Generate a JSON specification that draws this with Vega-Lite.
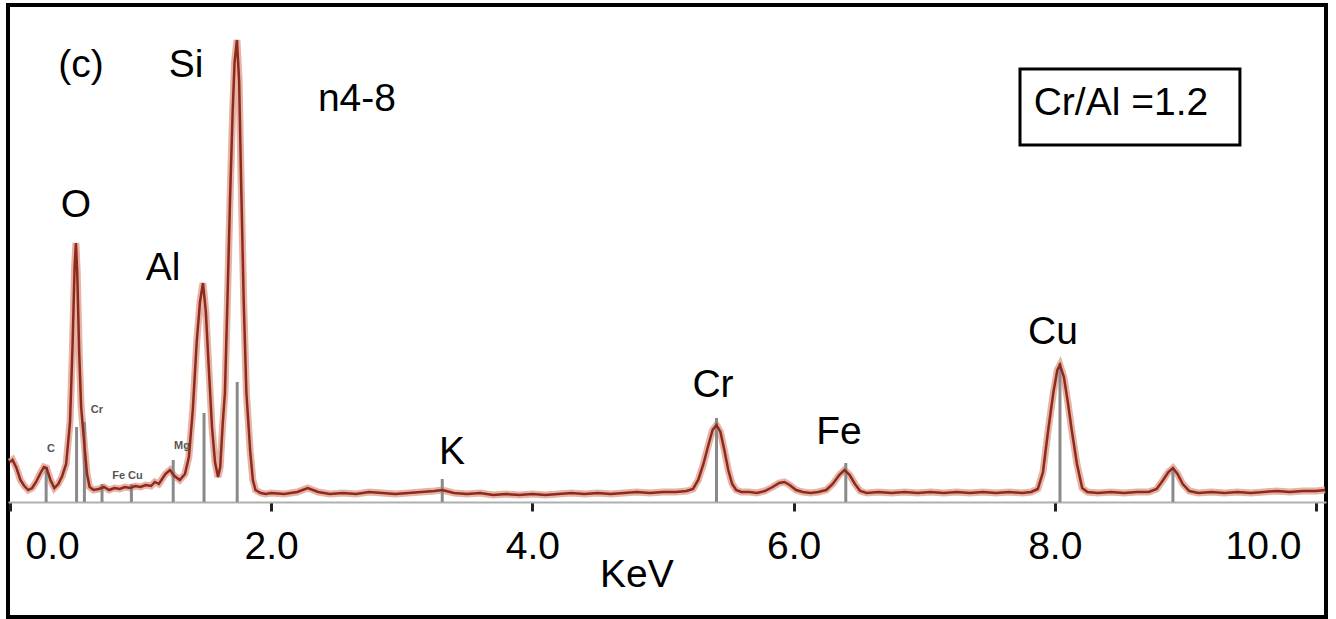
{
  "$schema": "https://vega.github.io/schema/vega-lite/v6.json",
  "width": 1318,
  "height": 612,
  "autosize": "none",
  "padding": {"left": 8, "top": 5, "right": 10, "bottom": 2},
  "background": "white",
  "config": {
    "view": {"stroke": "black", "strokeWidth": 4}
  },
  "data": {"values": [
      {"kind": "spec", "E": 0.00, "h": 40}, {"kind": "spec", "E": 0.02, "h": 42}, {"kind": "spec", "E": 0.05, "h": 34}, {"kind": "spec", "E": 0.08, "h": 22}, {"kind": "spec", "E": 0.11, "h": 16},
      {"kind": "spec", "E": 0.14, "h": 12}, {"kind": "spec", "E": 0.17, "h": 14}, {"kind": "spec", "E": 0.20, "h": 20}, {"kind": "spec", "E": 0.23, "h": 28}, {"kind": "spec", "E": 0.26, "h": 35},
      {"kind": "spec", "E": 0.28, "h": 34}, {"kind": "spec", "E": 0.31, "h": 22}, {"kind": "spec", "E": 0.34, "h": 14}, {"kind": "spec", "E": 0.37, "h": 18}, {"kind": "spec", "E": 0.40, "h": 26},
      {"kind": "spec", "E": 0.43, "h": 38}, {"kind": "spec", "E": 0.46, "h": 80}, {"kind": "spec", "E": 0.48, "h": 160}, {"kind": "spec", "E": 0.495, "h": 235}, {"kind": "spec", "E": 0.505, "h": 259},
      {"kind": "spec", "E": 0.515, "h": 230}, {"kind": "spec", "E": 0.53, "h": 150}, {"kind": "spec", "E": 0.545, "h": 95}, {"kind": "spec", "E": 0.56, "h": 72}, {"kind": "spec", "E": 0.575, "h": 50},
      {"kind": "spec", "E": 0.59, "h": 28}, {"kind": "spec", "E": 0.61, "h": 15}, {"kind": "spec", "E": 0.64, "h": 12}, {"kind": "spec", "E": 0.68, "h": 13}, {"kind": "spec", "E": 0.72, "h": 15},
      {"kind": "spec", "E": 0.76, "h": 12}, {"kind": "spec", "E": 0.80, "h": 14}, {"kind": "spec", "E": 0.84, "h": 13}, {"kind": "spec", "E": 0.88, "h": 15}, {"kind": "spec", "E": 0.92, "h": 14},
      {"kind": "spec", "E": 0.96, "h": 16}, {"kind": "spec", "E": 1.00, "h": 15}, {"kind": "spec", "E": 1.04, "h": 17}, {"kind": "spec", "E": 1.08, "h": 16}, {"kind": "spec", "E": 1.11, "h": 20},
      {"kind": "spec", "E": 1.14, "h": 18}, {"kind": "spec", "E": 1.16, "h": 22}, {"kind": "spec", "E": 1.19, "h": 28}, {"kind": "spec", "E": 1.225, "h": 32}, {"kind": "spec", "E": 1.26, "h": 26},
      {"kind": "spec", "E": 1.30, "h": 22}, {"kind": "spec", "E": 1.34, "h": 28}, {"kind": "spec", "E": 1.37, "h": 45}, {"kind": "spec", "E": 1.40, "h": 92}, {"kind": "spec", "E": 1.43, "h": 160},
      {"kind": "spec", "E": 1.455, "h": 200}, {"kind": "spec", "E": 1.478, "h": 219}, {"kind": "spec", "E": 1.50, "h": 190}, {"kind": "spec", "E": 1.52, "h": 140}, {"kind": "spec", "E": 1.547, "h": 75},
      {"kind": "spec", "E": 1.57, "h": 40}, {"kind": "spec", "E": 1.593, "h": 25}, {"kind": "spec", "E": 1.61, "h": 35}, {"kind": "spec", "E": 1.63, "h": 80}, {"kind": "spec", "E": 1.646, "h": 109},
      {"kind": "spec", "E": 1.665, "h": 200}, {"kind": "spec", "E": 1.685, "h": 302}, {"kind": "spec", "E": 1.705, "h": 390}, {"kind": "spec", "E": 1.72, "h": 440}, {"kind": "spec", "E": 1.738, "h": 462},
      {"kind": "spec", "E": 1.755, "h": 420}, {"kind": "spec", "E": 1.77, "h": 320}, {"kind": "spec", "E": 1.79, "h": 200}, {"kind": "spec", "E": 1.81, "h": 110}, {"kind": "spec", "E": 1.84, "h": 50},
      {"kind": "spec", "E": 1.86, "h": 22}, {"kind": "spec", "E": 1.88, "h": 12}, {"kind": "spec", "E": 1.92, "h": 9}, {"kind": "spec", "E": 1.96, "h": 8}, {"kind": "spec", "E": 2.00, "h": 9},
      {"kind": "spec", "E": 2.10, "h": 8}, {"kind": "spec", "E": 2.20, "h": 10}, {"kind": "spec", "E": 2.28, "h": 14}, {"kind": "spec", "E": 2.36, "h": 10}, {"kind": "spec", "E": 2.45, "h": 8},
      {"kind": "spec", "E": 2.55, "h": 9}, {"kind": "spec", "E": 2.65, "h": 8}, {"kind": "spec", "E": 2.75, "h": 10}, {"kind": "spec", "E": 2.85, "h": 9}, {"kind": "spec", "E": 2.95, "h": 8},
      {"kind": "spec", "E": 3.05, "h": 9}, {"kind": "spec", "E": 3.15, "h": 10}, {"kind": "spec", "E": 3.25, "h": 11}, {"kind": "spec", "E": 3.31, "h": 12}, {"kind": "spec", "E": 3.40, "h": 9},
      {"kind": "spec", "E": 3.50, "h": 8}, {"kind": "spec", "E": 3.60, "h": 9}, {"kind": "spec", "E": 3.70, "h": 7}, {"kind": "spec", "E": 3.80, "h": 8}, {"kind": "spec", "E": 3.90, "h": 7},
      {"kind": "spec", "E": 4.00, "h": 8}, {"kind": "spec", "E": 4.10, "h": 7}, {"kind": "spec", "E": 4.20, "h": 8}, {"kind": "spec", "E": 4.30, "h": 9}, {"kind": "spec", "E": 4.40, "h": 8},
      {"kind": "spec", "E": 4.50, "h": 9}, {"kind": "spec", "E": 4.60, "h": 8}, {"kind": "spec", "E": 4.70, "h": 9}, {"kind": "spec", "E": 4.80, "h": 10}, {"kind": "spec", "E": 4.90, "h": 9},
      {"kind": "spec", "E": 5.00, "h": 10}, {"kind": "spec", "E": 5.10, "h": 10}, {"kind": "spec", "E": 5.18, "h": 11}, {"kind": "spec", "E": 5.23, "h": 13}, {"kind": "spec", "E": 5.27, "h": 22},
      {"kind": "spec", "E": 5.31, "h": 38}, {"kind": "spec", "E": 5.35, "h": 58}, {"kind": "spec", "E": 5.38, "h": 72}, {"kind": "spec", "E": 5.41, "h": 77}, {"kind": "spec", "E": 5.44, "h": 70},
      {"kind": "spec", "E": 5.47, "h": 52}, {"kind": "spec", "E": 5.50, "h": 32}, {"kind": "spec", "E": 5.53, "h": 18}, {"kind": "spec", "E": 5.56, "h": 12}, {"kind": "spec", "E": 5.60, "h": 10},
      {"kind": "spec", "E": 5.66, "h": 10}, {"kind": "spec", "E": 5.72, "h": 9}, {"kind": "spec", "E": 5.78, "h": 11}, {"kind": "spec", "E": 5.84, "h": 15}, {"kind": "spec", "E": 5.89, "h": 19},
      {"kind": "spec", "E": 5.93, "h": 20}, {"kind": "spec", "E": 5.97, "h": 17}, {"kind": "spec", "E": 6.02, "h": 12}, {"kind": "spec", "E": 6.07, "h": 10}, {"kind": "spec", "E": 6.13, "h": 9},
      {"kind": "spec", "E": 6.19, "h": 10}, {"kind": "spec", "E": 6.25, "h": 12}, {"kind": "spec", "E": 6.30, "h": 18}, {"kind": "spec", "E": 6.35, "h": 27}, {"kind": "spec", "E": 6.39, "h": 32},
      {"kind": "spec", "E": 6.43, "h": 27}, {"kind": "spec", "E": 6.47, "h": 18}, {"kind": "spec", "E": 6.51, "h": 11}, {"kind": "spec", "E": 6.56, "h": 9}, {"kind": "spec", "E": 6.65, "h": 10},
      {"kind": "spec", "E": 6.75, "h": 9}, {"kind": "spec", "E": 6.85, "h": 10}, {"kind": "spec", "E": 6.95, "h": 9}, {"kind": "spec", "E": 7.05, "h": 10}, {"kind": "spec", "E": 7.15, "h": 9},
      {"kind": "spec", "E": 7.25, "h": 10}, {"kind": "spec", "E": 7.35, "h": 9}, {"kind": "spec", "E": 7.45, "h": 10}, {"kind": "spec", "E": 7.55, "h": 9}, {"kind": "spec", "E": 7.65, "h": 10},
      {"kind": "spec", "E": 7.75, "h": 9}, {"kind": "spec", "E": 7.82, "h": 10}, {"kind": "spec", "E": 7.87, "h": 13}, {"kind": "spec", "E": 7.91, "h": 30}, {"kind": "spec", "E": 7.95, "h": 72},
      {"kind": "spec", "E": 7.99, "h": 110}, {"kind": "spec", "E": 8.02, "h": 132}, {"kind": "spec", "E": 8.04, "h": 137}, {"kind": "spec", "E": 8.07, "h": 125}, {"kind": "spec", "E": 8.10, "h": 100},
      {"kind": "spec", "E": 8.13, "h": 72}, {"kind": "spec", "E": 8.17, "h": 38}, {"kind": "spec", "E": 8.21, "h": 14}, {"kind": "spec", "E": 8.25, "h": 10}, {"kind": "spec", "E": 8.33, "h": 9},
      {"kind": "spec", "E": 8.43, "h": 10}, {"kind": "spec", "E": 8.53, "h": 9}, {"kind": "spec", "E": 8.63, "h": 10}, {"kind": "spec", "E": 8.72, "h": 10}, {"kind": "spec", "E": 8.78, "h": 13},
      {"kind": "spec", "E": 8.83, "h": 22}, {"kind": "spec", "E": 8.87, "h": 30}, {"kind": "spec", "E": 8.905, "h": 34}, {"kind": "spec", "E": 8.94, "h": 28}, {"kind": "spec", "E": 8.98, "h": 18},
      {"kind": "spec", "E": 9.03, "h": 11}, {"kind": "spec", "E": 9.10, "h": 9}, {"kind": "spec", "E": 9.20, "h": 10}, {"kind": "spec", "E": 9.30, "h": 9}, {"kind": "spec", "E": 9.40, "h": 10},
      {"kind": "spec", "E": 9.50, "h": 9}, {"kind": "spec", "E": 9.60, "h": 10}, {"kind": "spec", "E": 9.70, "h": 11}, {"kind": "spec", "E": 9.80, "h": 10}, {"kind": "spec", "E": 9.90, "h": 11},
      {"kind": "spec", "E": 10.00, "h": 11}, {"kind": "spec", "E": 10.07, "h": 12},
      {"kind": "marker", "label": "C", "E": 0.277, "h": 35, "h2": 0},
      {"kind": "marker", "label": "O", "E": 0.51, "h": 75, "h2": 0},
      {"kind": "marker", "label": "Cr L", "E": 0.57, "h": 80, "h2": 0},
      {"kind": "marker", "label": "Fe L", "E": 0.705, "h": 18, "h2": 0},
      {"kind": "marker", "label": "Cu L", "E": 0.93, "h": 18, "h2": 0},
      {"kind": "marker", "label": "Mg", "E": 1.25, "h": 42, "h2": 0},
      {"kind": "marker", "label": "Al", "E": 1.486, "h": 89, "h2": 0},
      {"kind": "marker", "label": "Si", "E": 1.74, "h": 120, "h2": 0},
      {"kind": "marker", "label": "K", "E": 3.31, "h": 23, "h2": 0},
      {"kind": "marker", "label": "Cr", "E": 5.41, "h": 84, "h2": 0},
      {"kind": "marker", "label": "Fe", "E": 6.40, "h": 39, "h2": 0},
      {"kind": "marker", "label": "Cu", "E": 8.04, "h": 139, "h2": 0},
      {"kind": "marker", "label": "Cu Kb", "E": 8.905, "h": 34, "h2": 0},
      {"kind": "label", "label": "(c)", "E": 0.544, "h": 437},
      {"kind": "label", "label": "Si", "E": 1.348, "h": 437},
      {"kind": "label", "label": "n4-8", "E": 2.657, "h": 403},
      {"kind": "label", "label": "O", "E": 0.505, "h": 297},
      {"kind": "label", "label": "Al", "E": 1.172, "h": 234},
      {"kind": "label", "label": "K", "E": 3.384, "h": 50},
      {"kind": "label", "label": "Cr", "E": 5.383, "h": 117},
      {"kind": "label", "label": "Fe", "E": 6.348, "h": 70},
      {"kind": "label", "label": "Cu", "E": 7.986, "h": 170},
      {"kind": "label", "label": "Cr/Al =1.2", "E": 8.507, "h": 399},
      {"kind": "label", "label": "KeV", "E": 4.80, "h": -73},
      {"kind": "small", "label": "C", "E": 0.314, "h": 53},
      {"kind": "small", "label": "Cr", "E": 0.666, "h": 92},
      {"kind": "small", "label": "Fe Cu", "E": 0.90, "h": 26},
      {"kind": "small", "label": "Mg", "E": 1.317, "h": 56},
      {"kind": "box", "E": 7.734, "E2": 9.418, "h": 357, "h2": 433}
  ]},
  "encoding": {
    "x": {"field": "E", "type": "quantitative",
      "scale": {"domain": [-0.015, 10.077], "nice": false, "zero": false},
      "axis": {
        "values": [0, 2, 4, 6, 8, 10],
        "format": ".1f",
        "offset": -115,
        "domainColor": "#b0b0b0",
        "domainWidth": 2,
        "tickColor": "#222222",
        "tickWidth": 3,
        "tickSize": 9,
        "grid": false,
        "labelFont": "Liberation Sans",
        "labelFontSize": 39,
        "labelColor": "black",
        "labelPadding": 16,
        "labelFlush": 15,
        "labelFlushOffset": -15,
        "title": null
      }
    },
    "y": {"field": "h", "type": "quantitative",
      "scale": {"domain": [-115, 497], "nice": false, "zero": false},
      "axis": null
    }
  },
  "layer": [
    {
      "transform": [{"filter": "datum.kind === 'box'"}],
      "mark": {"type": "rect", "filled": false, "stroke": "black", "strokeWidth": 3},
      "encoding": {
        "x2": {"field": "E2"},
        "y2": {"field": "h2"}
      }
    },
    {
      "transform": [{"filter": "datum.kind === 'spec'"}],
      "mark": {"type": "line", "color": "#e2a697", "strokeWidth": 7, "opacity": 0.85},
      "encoding": {}
    },
    {
      "transform": [{"filter": "datum.kind === 'marker'"}],
      "mark": {"type": "rule", "color": "#8a8a8a", "strokeWidth": 3},
      "encoding": {
        "y2": {"field": "h2"}
      }
    },
    {
      "transform": [{"filter": "datum.kind === 'spec'"}],
      "mark": {"type": "line", "color": "#8e2a1c", "strokeWidth": 2.5},
      "encoding": {}
    },
    {
      "transform": [{"filter": "datum.kind === 'label'"}],
      "mark": {"type": "text", "font": "Liberation Sans", "fontSize": 39, "color": "black", "baseline": "middle", "align": "center"},
      "encoding": {
        "text": {"field": "label", "type": "nominal"}
      }
    },
    {
      "transform": [{"filter": "datum.kind === 'small'"}],
      "mark": {"type": "text", "font": "Liberation Sans", "fontSize": 11, "fontWeight": "bold", "color": "#555555", "baseline": "middle", "align": "center"},
      "encoding": {
        "text": {"field": "label", "type": "nominal"}
      }
    }
  ]
}
